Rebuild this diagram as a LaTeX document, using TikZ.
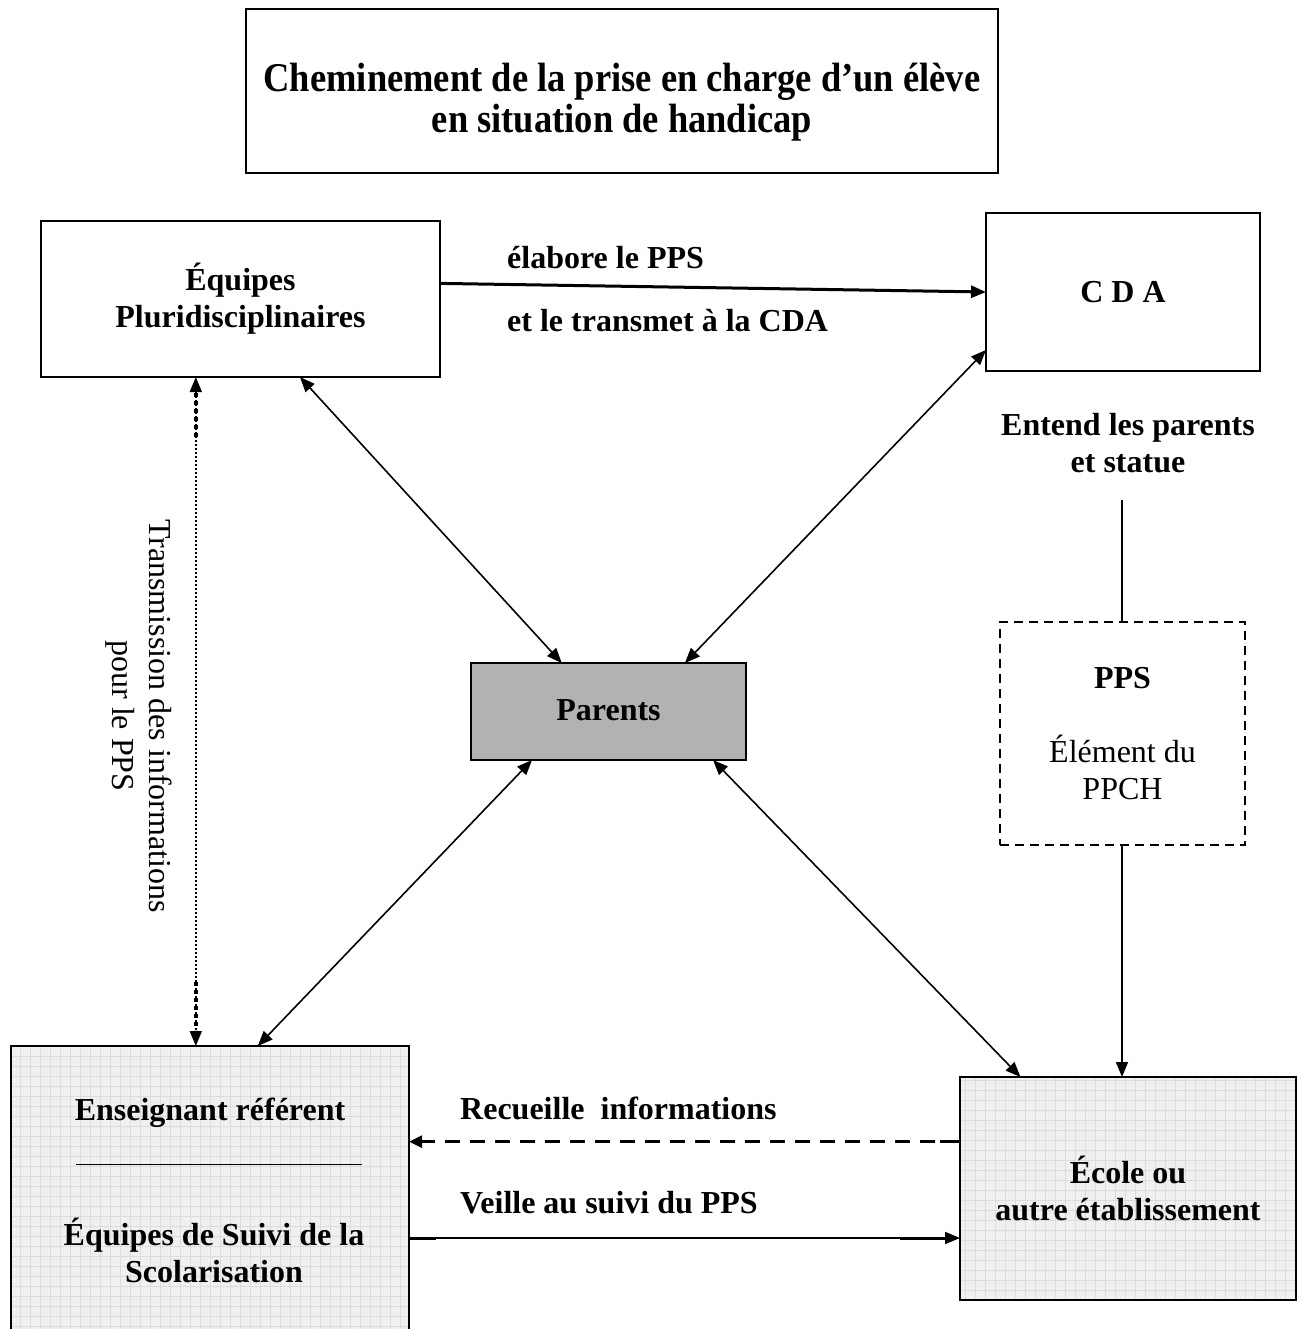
\documentclass[tikz,border=0pt]{standalone}
\usepackage{fontspec}
\setmainfont{Liberation Serif}
\usetikzlibrary{arrows.meta,calc}
\definecolor{parentsgray}{HTML}{B2B2B2}
\definecolor{gridfill}{HTML}{F0F0F0}
\definecolor{gridline}{HTML}{DCDCDC}
\begin{document}
\begin{tikzpicture}[x=1pt,y=-1pt,
  box/.style={draw,line width=2pt,rectangle,inner sep=0pt,outer sep=0pt},
  gridbox/.style={box,fill=gridfill,
    path picture={\draw[gridline,line width=0.6pt,step=10pt]
      (path picture bounding box.south west) grid (path picture bounding box.north east);}},
  lbl/.style={font=\fontsize{32}{37}\selectfont\bfseries,align=center,inner sep=0pt},
  plain/.style={font=\fontsize{32}{37}\selectfont,align=center,inner sep=0pt},
  tip/.style={>={Triangle[length=15pt,width=12pt]}},
  dbl/.style={tip,<->,line width=1.6pt},
]
\useasboundingbox (0,0) rectangle (1301,1329);
\fill[white] (0,0) rectangle (1301,1329);

% title
\node[box,line width=2.5pt,minimum width=752pt,minimum height=164pt] (title) at (622,91) {};
\node[inner sep=0pt] (titletext) at (622,104)
  {\scalebox{1}[1.12]{\fontsize{36.5}{36}\selectfont\bfseries\begin{tabular}{@{}c@{}}Cheminement de la prise en charge d’un élève\\
   en situation de handicap\end{tabular}}};

% boxes
\node[box,minimum width=399pt,minimum height=156pt,lbl] (eq) at (240.5,299)
  {Équipes\\Pluridisciplinaires};
\node[box,minimum width=274pt,minimum height=158pt,lbl] (cda) at (1123,292) {\raisebox{-4pt}{C D A}};
\node[box,fill=parentsgray,minimum width=275pt,minimum height=97pt,lbl] (par) at (608.5,711.5) {\raisebox{2pt}{Parents}};
\node[box,dashed,dash pattern=on 9pt off 6pt,line width=1.6pt,minimum width=245pt,minimum height=223pt,plain] (pps) at (1122.5,733.5)
  {\textbf{PPS}\\[37pt]Élément du\\PPCH};
\node[gridbox,minimum width=398pt,minimum height=300pt] (ens) at (210,1196) {};
\node[gridbox,minimum width=336pt,minimum height=223pt,lbl] (eco) at (1128,1188.5)
  {École ou\\autre établissement};

% texts in Enseignant box
\node[lbl] (ensA) at (210,1113) {Enseignant référent};
\node[lbl] (ensB) at (214,1250) {Équipes de Suivi de la\\Scolarisation};
\coordinate (ruleL) at (76,1164);
\coordinate (ruleR) at (362,1164);
\draw[line width=1pt] (ruleL) -- (ruleR);

% eq -> cda
\draw[tip,->,line width=3pt] ($(eq.north east)!0.4!(eq.south east)$) -- (cda.west);
\node[lbl,anchor=west] (elab) at (507,258) {élabore le PPS};
\node[lbl,anchor=west] (trans) at (507,321) {et le transmet à la CDA};

% double arrows with parents
\draw[dbl] ($(eq.south west)!0.649!(eq.south east)$) -- ($(par.north west)!0.33!(par.north east)$);
\draw[dbl] ($(cda.north west)!0.867!(cda.south west)$) -- ($(par.north west)!0.778!(par.north east)$);
\draw[dbl] ($(par.south west)!0.222!(par.south east)$) -- ($(ens.north west)!0.62!(ens.north east)$);
\draw[dbl] ($(par.south west)!0.88!(par.south east)$) -- ($(eco.north west)!0.18!(eco.north east)$);

% dotted vertical
\coordinate (d1) at ($(eq.south west)!0.388!(eq.south east)$);
\coordinate (d2) at (d1 |- ens.north);
\draw[tip,<->,line width=1.6pt,dash pattern=on 2pt off 2pt] (d1) -- (d2);
\draw[line width=4pt,dash pattern=on 4pt off 4pt] ($(d1)+(0,16)$) -- ($(d1)+(0,64)$);
\draw[line width=4pt,dash pattern=on 4pt off 4pt] ($(d2)+(0,-64)$) -- ($(d2)+(0,-16)$);
\node[plain,rotate=-90] (transm) at (139,716) {Transmission des informations\\pour le PPS};

% CDA -> PPS -> Ecole
\node[lbl] (entend) at (1128,443) {Entend les parents\\et statue};
\coordinate (c1) at (1122,500);
\draw[line width=1.6pt] (c1) -- (c1 |- pps.north);
\coordinate (c2) at (1122,845);
\draw[tip,->,line width=1.6pt] (c2) -- (c2 |- eco.north);

% bottom arrows
\coordinate (r1) at ($(eco.north west)!0.29!(eco.south west)$);
\draw[tip,->,line width=2.5pt,dash pattern=on 15pt off 10pt,>={Triangle[length=13pt,width=12pt]}] (r1) -- (r1 -| ens.east);
\draw[line width=3.5pt] (r1) -- ($(r1)+(-20,0)$);
\node[lbl,anchor=west] (recu) at (460,1108) {Recueille~ informations};
\coordinate (v1) at (ens.east |- 0,1238);
\draw[tip,->,line width=1.8pt] (v1) -- (v1 -| eco.west);
\draw[line width=3pt] (v1) -- ($(v1)+(27,0)$);
\draw[line width=3pt] ($(v1 -| eco.west)+(-60,0)$) -- ($(v1 -| eco.west)+(-12,0)$);
\node[lbl,anchor=west] (veil) at (460,1203) {Veille au suivi du PPS};
\end{tikzpicture}
\end{document}
